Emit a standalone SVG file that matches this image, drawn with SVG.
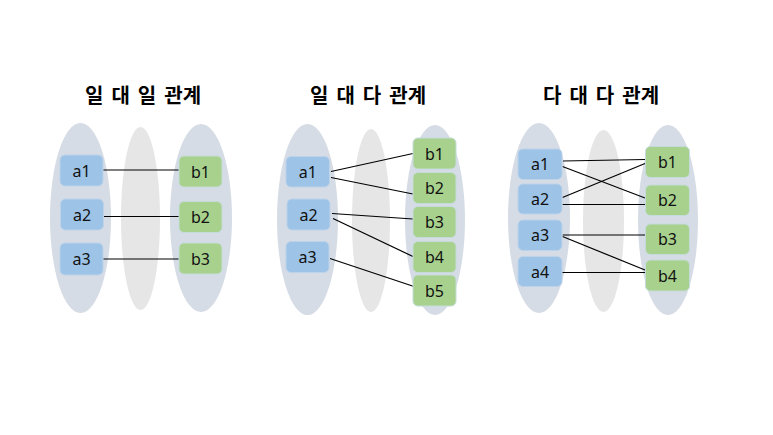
<svg xmlns="http://www.w3.org/2000/svg" width="773" height="435" viewBox="0 0 773 435">
<style>
.title{font-family:"Noto Sans CJK KR","Noto Sans",sans-serif;font-weight:bold;font-size:20px;fill:#000;text-anchor:middle;word-spacing:3.5px}
.lbl{font-family:"Noto Sans","Noto Sans CJK KR",sans-serif;font-size:16px;fill:#111;text-anchor:middle;dominant-baseline:central}
.set{fill:#d6dce5}
.mid{fill:#e7e6e6}
.a{fill:#9dc3e6;stroke:#bcd3ea;stroke-width:1}
.b{fill:#a9d18e;stroke:#c4dcd9;stroke-width:1}
.ln{stroke:#000;stroke-width:1.2;fill:none}
</style>
<rect width="773" height="435" fill="#fff"/>
<text class="title" x="143" y="103">일 대 일 관계</text>
<text class="title" x="368" y="103">일 대 다 관계</text>
<text class="title" x="601" y="103">다 대 다 관계</text>

<g id="sets">
<ellipse class="set" cx="80.5" cy="218" rx="30.5" ry="95"/>
<ellipse class="mid" cx="140.5" cy="218.5" rx="19.5" ry="91.5"/>
<ellipse class="set" cx="201" cy="218" rx="31" ry="94"/>
<ellipse class="set" cx="307.5" cy="219.5" rx="30.5" ry="95.5"/>
<ellipse class="mid" cx="371" cy="220.5" rx="19" ry="91.5"/>
<ellipse class="set" cx="435" cy="220" rx="30" ry="95"/>
<ellipse class="set" cx="539" cy="218" rx="31" ry="95"/>
<ellipse class="mid" cx="603.5" cy="221" rx="20.5" ry="91"/>
<ellipse class="set" cx="668" cy="220" rx="30" ry="95"/>
</g>

<g id="connectors">
<line class="ln" x1="103" y1="170" x2="179" y2="170"/>
<line class="ln" x1="103" y1="216.5" x2="179" y2="216.5"/>
<line class="ln" x1="103" y1="259" x2="179" y2="259"/>
<line class="ln" x1="331" y1="171.5" x2="413" y2="153.5"/>
<line class="ln" x1="331" y1="177.5" x2="413" y2="194"/>
<line class="ln" x1="332" y1="213.5" x2="413" y2="219"/>
<line class="ln" x1="333" y1="218.5" x2="414" y2="257"/>
<line class="ln" x1="330" y1="258.5" x2="414" y2="286.5"/>
<line class="ln" x1="563" y1="161" x2="645" y2="159.5"/>
<line class="ln" x1="562.5" y1="166.5" x2="645" y2="198"/>
<line class="ln" x1="562.5" y1="197.5" x2="645" y2="163.5"/>
<line class="ln" x1="562.5" y1="204.5" x2="645" y2="204.5"/>
<line class="ln" x1="562.5" y1="235" x2="645" y2="235"/>
<line class="ln" x1="562.5" y1="236.5" x2="645" y2="270"/>
<line class="ln" x1="561.5" y1="272.5" x2="645" y2="272.5"/>
</g>

<g id="n1-a1"><rect class="a" x="60" y="155" width="43" height="31" rx="5"/><text class="lbl" x="81.5" y="170.5">a1</text></g>
<g id="n1-a2"><rect class="a" x="60.5" y="199" width="43" height="31" rx="5"/><text class="lbl" x="82" y="214.5">a2</text></g>
<g id="n1-a3"><rect class="a" x="60" y="243" width="43" height="32" rx="5"/><text class="lbl" x="81.5" y="259">a3</text></g>
<g id="n1-b1"><rect class="b" x="179" y="156" width="43" height="31" rx="5"/><text class="lbl" x="200.5" y="171.5">b1</text></g>
<g id="n1-b2"><rect class="b" x="179" y="201.5" width="43" height="31" rx="5"/><text class="lbl" x="200.5" y="217">b2</text></g>
<g id="n1-b3"><rect class="b" x="179" y="243" width="43" height="31" rx="5"/><text class="lbl" x="200.5" y="258.5">b3</text></g>

<g id="n2-a1"><rect class="a" x="286" y="156.5" width="43.5" height="30.5" rx="5"/><text class="lbl" x="307.8" y="171.8">a1</text></g>
<g id="n2-a2"><rect class="a" x="287" y="199" width="43" height="31" rx="5"/><text class="lbl" x="308.5" y="214.5">a2</text></g>
<g id="n2-a3"><rect class="a" x="286" y="241.5" width="43" height="31" rx="5"/><text class="lbl" x="307.5" y="257">a3</text></g>
<g id="n2-b1"><rect class="b" x="413" y="138" width="43" height="31" rx="5"/><text class="lbl" x="434.5" y="153.5">b1</text></g>
<g id="n2-b2"><rect class="b" x="413" y="172.5" width="43" height="31" rx="5"/><text class="lbl" x="434.5" y="188">b2</text></g>
<g id="n2-b3"><rect class="b" x="413" y="206.5" width="43" height="31" rx="5"/><text class="lbl" x="434.5" y="222">b3</text></g>
<g id="n2-b4"><rect class="b" x="413" y="241.5" width="43" height="31" rx="5"/><text class="lbl" x="434.5" y="257">b4</text></g>
<g id="n2-b5"><rect class="b" x="413" y="275" width="43" height="31" rx="5"/><text class="lbl" x="434.5" y="290.5">b5</text></g>

<g id="n3-a1"><rect class="a" x="518" y="149" width="44" height="30.5" rx="5"/><text class="lbl" x="540" y="164.3">a1</text></g>
<g id="n3-a2"><rect class="a" x="518" y="184" width="44" height="30" rx="5"/><text class="lbl" x="540" y="199">a2</text></g>
<g id="n3-a3"><rect class="a" x="518" y="220" width="44" height="30.5" rx="5"/><text class="lbl" x="540" y="235.3">a3</text></g>
<g id="n3-a4"><rect class="a" x="518" y="256.5" width="44" height="30" rx="5"/><text class="lbl" x="540" y="271.5">a4</text></g>
<g id="n3-b1"><rect class="b" x="645.5" y="146.5" width="44" height="31" rx="5"/><text class="lbl" x="667.5" y="162">b1</text></g>
<g id="n3-b2"><rect class="b" x="645.5" y="185" width="44" height="30.5" rx="5"/><text class="lbl" x="667.5" y="200.3">b2</text></g>
<g id="n3-b3"><rect class="b" x="645.5" y="224" width="44" height="30.5" rx="5"/><text class="lbl" x="667.5" y="239.3">b3</text></g>
<g id="n3-b4"><rect class="b" x="645.5" y="260" width="44" height="31" rx="5"/><text class="lbl" x="667.5" y="275.5">b4</text></g>
</svg>
